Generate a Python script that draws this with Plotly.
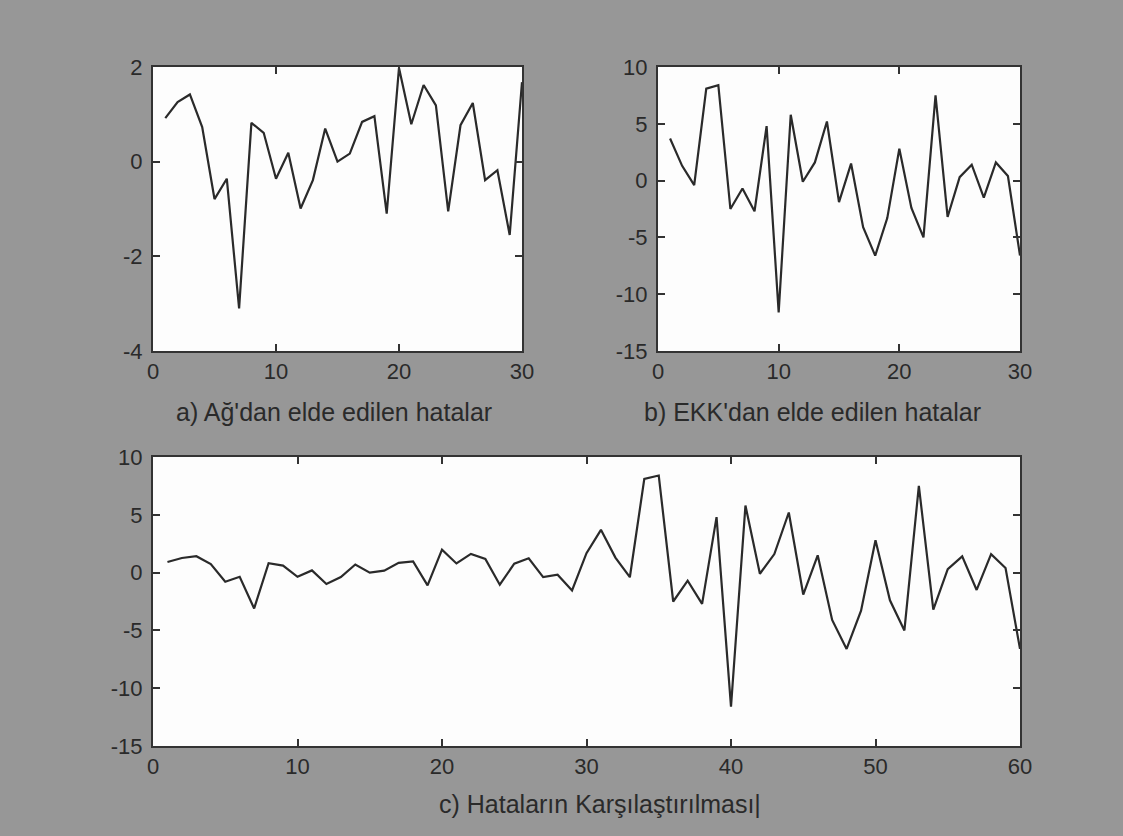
import plotly.graph_objects as go

# Data
x_30 = list(range(1, 31))
x_60 = list(range(1, 61))
ag_errors = [0.92, 1.26, 1.42, 0.73, -0.79, -0.36, -3.1, 0.82, 0.61, -0.36,
             0.19, -0.99, -0.39, 0.70, 0.0, 0.17, 0.84, 0.96, -1.10, 1.98,
             0.79, 1.62, 1.19, -1.05, 0.77, 1.24, -0.39, -0.18, -1.55, 1.68]
ekk_errors = [3.7, 1.3, -0.4, 8.1, 8.4, -2.5, -0.7, -2.7, 4.8, -11.6,
              5.8, -0.1, 1.6, 5.2, -1.9, 1.5, -4.1, -6.6, -3.3, 2.8,
              -2.4, -5.0, 7.5, -3.2, 0.3, 1.4, -1.5, 1.6, 0.4, -6.6]
combined = ag_errors + ekk_errors

x_ticks_30 = [0, 10, 20, 30]
x_ticks_60 = [0, 10, 20, 30, 40, 50, 60]
y_ticks_a = [-4, -2, 0, 2]
y_ticks_b = [-15, -10, -5, 0, 5, 10]

captions = ["a) Ağ'dan elde edilen hatalar",
            "b) EKK'dan elde edilen hatalar",
            "c) Hataların Karşılaştırılması|"]

FONT = "Liberation Sans, Arial, sans-serif"
LINE_COLOR = "#2a2a2a"
TEXT_COLOR = "#2a2a2a"

fig = go.Figure()
fig.add_trace(go.Scatter(x=x_30, y=ag_errors, mode="lines",
                         line=dict(color=LINE_COLOR, width=2.2),
                         xaxis="x", yaxis="y", showlegend=False))
fig.add_trace(go.Scatter(x=x_30, y=ekk_errors, mode="lines",
                         line=dict(color=LINE_COLOR, width=2.2),
                         xaxis="x2", yaxis="y2", showlegend=False))
fig.add_trace(go.Scatter(x=x_60, y=combined, mode="lines",
                         line=dict(color=LINE_COLOR, width=2.2),
                         xaxis="x3", yaxis="y3", showlegend=False))

W, H = 1123, 836
def fx(px):
    return px / W
def fy(py):
    return 1 - py / H

ax_common = dict(showgrid=False, zeroline=False, showline=True, mirror="ticks",
                 linecolor="#333333", linewidth=2, ticks="inside", ticklen=7,
                 tickwidth=1.5, tickcolor="#333333", automargin=False,
                 tickfont=dict(family=FONT, size=22, color=TEXT_COLOR))
y_extra = dict(ticklabelstandoff=4)

def lab(vals):
    return [str(v) for v in vals]

fig.update_layout(
    width=W, height=H,
    margin=dict(l=0, r=0, t=0, b=0, pad=0),
    paper_bgcolor="#979797",
    plot_bgcolor="#fdfdfd",
    xaxis=dict(domain=[fx(153), fx(522)], range=[0, 30], tickvals=x_ticks_30,
               ticktext=lab(x_ticks_30), anchor="y", **ax_common),
    yaxis=dict(domain=[fy(351), fy(67)], range=[-4, 2], tickvals=y_ticks_a,
               ticktext=lab(y_ticks_a), anchor="x", **ax_common, **y_extra),
    xaxis2=dict(domain=[fx(658), fx(1020)], range=[0, 30], tickvals=x_ticks_30,
                ticktext=lab(x_ticks_30), anchor="y2", **ax_common),
    yaxis2=dict(domain=[fy(351), fy(67)], range=[-15, 10], tickvals=y_ticks_b,
                ticktext=lab(y_ticks_b), anchor="x2", **ax_common, **y_extra),
    xaxis3=dict(domain=[fx(153), fx(1020)], range=[0, 60], tickvals=x_ticks_60,
                ticktext=lab(x_ticks_60), anchor="y3", **ax_common),
    yaxis3=dict(domain=[fy(746), fy(457)], range=[-15, 10], tickvals=y_ticks_b,
                ticktext=lab(y_ticks_b), anchor="x3", **ax_common, **y_extra),
)

cap_pos = [(334, 412), (812, 412), (600, 804)]
for text, (cx, cy) in zip(captions, cap_pos):
    fig.add_annotation(text=text, x=fx(cx), y=fy(cy), xref="paper", yref="paper",
                       showarrow=False, xanchor="center", yanchor="middle",
                       font=dict(family=FONT, size=25, color=TEXT_COLOR))

fig.write_html("out.html", config={"displayModeBar": False},
               post_script="document.body.style.margin='0';document.body.style.overflow='hidden';")
